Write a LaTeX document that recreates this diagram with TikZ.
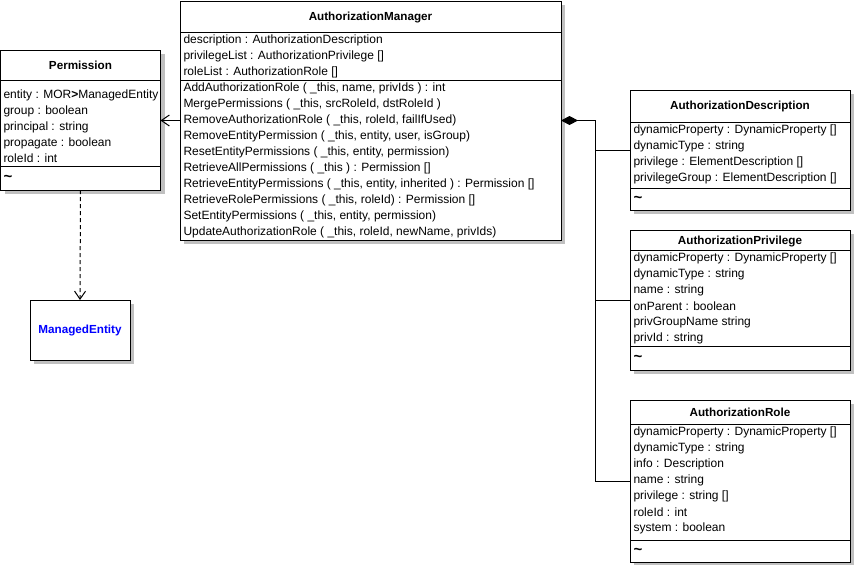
\documentclass[tikz,border=0pt]{standalone}
\usepackage{fontspec}
\setmainfont{Liberation Sans}
\usetikzlibrary{shadows,arrows.meta}
\definecolor{umlblue}{RGB}{0,0,255}
\definecolor{shadowgray}{RGB}{192,192,192}
\begin{document}
\begin{tikzpicture}[x=1pt,y=-1pt,line width=1pt,
  box/.style={draw=black,fill=white,anchor=north west,inner sep=0pt,outer sep=0pt,
    drop shadow={shadow xshift=4pt,shadow yshift=-4pt,fill=shadowgray,opacity=1}},
  txt/.style={anchor=west,inner sep=0pt,font=\fontsize{12}{13}\selectfont},
  ttl/.style={inner sep=0pt,font=\fontsize{11.7}{13}\selectfont\bfseries},
  sep/.style={line width=1pt},
  tld/.style={anchor=west,inner sep=0pt,font=\fontsize{15}{15}\selectfont\bfseries},
  assoc/.style={-{Straight Barb[length=8pt,width=11pt,line width=1pt]}},
  depend/.style={dashed,dash pattern=on 4pt off 3pt,-{Straight Barb[length=8pt,width=11pt,line width=1pt]}},
  compos/.style={{Diamond[length=17pt,width=9pt]}-}]
\useasboundingbox (0,0) rectangle (855,565);

% ---------- AuthorizationManager ----------
\node[box,minimum width=381pt,minimum height=239pt] (mgr) at (180,1) {};
\node[ttl] (mgrT) at (370.5,17) {AuthorizationManager};
\draw[sep] (180,32) -- (561,32);
\draw[sep] (180,80) -- (561,80);
\node[txt] (m1) at (183,40.5) {description : AuthorizationDescription};
\node[txt] (m2) at (183,56.5) {privilegeList : AuthorizationPrivilege []};
\node[txt] (m3) at (183,72.5) {roleList : AuthorizationRole []};
\node[txt] (o1) at (183,88.5) {AddAuthorizationRole ( \_this, name, privIds ) : int};
\node[txt] (o2) at (183,104.5) {MergePermissions ( \_this, srcRoleId, dstRoleId )};
\node[txt] (o3) at (183,120.5) {RemoveAuthorizationRole ( \_this, roleId, failIfUsed)};
\node[txt] (o4) at (183,136.5) {RemoveEntityPermission ( \_this, entity, user, isGroup)};
\node[txt] (o5) at (183,152.5) {ResetEntityPermissions ( \_this, entity, permission)};
\node[txt] (o6) at (183,168.5) {RetrieveAllPermissions ( \_this ) : Permission []};
\node[txt] (o7) at (183,184.5) {RetrieveEntityPermissions ( \_this, entity, inherited ) : Permission []};
\node[txt] (o8) at (183,200.5) {RetrieveRolePermissions ( \_this, roleId) : Permission []};
\node[txt] (o9) at (183,216.5) {SetEntityPermissions ( \_this, entity, permission)};
\node[txt] (o10) at (183,232.5) {UpdateAuthorizationRole ( \_this, roleId, newName, privIds)};

% ---------- Permission ----------
\node[box,minimum width=160pt,minimum height=140pt] (perm) at (0.5,50) {};
\node[ttl] (permT) at (80.5,65) {Permission};
\draw[sep] (0.5,80) -- (160.5,80);
\draw[sep] (0.5,166) -- (160.5,166);
\node[txt] (p1) at (3,95.5) {entity : MOR\textbf{>}ManagedEntity};
\node[txt] (p2) at (3,111.5) {group : boolean};
\node[txt] (p3) at (3,127.5) {principal : string};
\node[txt] (p4) at (3,143.5) {propagate : boolean};
\node[txt] (p5) at (3,158.5) {roleId : int};
\node[tld] (pt) at (3,178) {\textasciitilde};

% ---------- ManagedEntity ----------
\node[box,minimum width=100pt,minimum height=60pt] (me) at (30,300) {};
\node[ttl,text=umlblue] (meT) at (80,330) {ManagedEntity};

% ---------- AuthorizationDescription ----------
\node[box,minimum width=220pt,minimum height=120pt] (desc) at (630,90) {};
\node[ttl] (descT) at (740,106.5) {AuthorizationDescription};
\draw[sep] (630,122) -- (850,122);
\draw[sep] (630,188) -- (850,188);
\node[txt] (d1) at (633,130.5) {dynamicProperty : DynamicProperty []};
\node[txt] (d2) at (633,146.5) {dynamicType : string};
\node[txt] (d3) at (633,162.5) {privilege : ElementDescription []};
\node[txt] (d4) at (633,178.5) {privilegeGroup : ElementDescription []};
\node[tld] (dt) at (633,199) {\textasciitilde};

% ---------- AuthorizationPrivilege ----------
\node[box,minimum width=220pt,minimum height=140pt] (priv) at (630,230) {};
\node[ttl] (privT) at (740,241.5) {AuthorizationPrivilege};
\draw[sep] (630,250) -- (850,250);
\draw[sep] (630,346) -- (850,346);
\node[txt] (v1) at (633,258.5) {dynamicProperty : DynamicProperty []};
\node[txt] (v2) at (633,274.5) {dynamicType : string};
\node[txt] (v3) at (633,290.5) {name : string};
\node[txt] (v4) at (633,306.5) {onParent : boolean};
\node[txt] (v5) at (633,322.5) {privGroupName string};
\node[txt] (v6) at (633,338.5) {privId : string};
\node[tld] (vt) at (633,358) {\textasciitilde};

% ---------- AuthorizationRole ----------
\node[box,minimum width=220pt,minimum height=162pt] (role) at (630,400) {};
\node[ttl] (roleT) at (740,412.5) {AuthorizationRole};
\draw[sep] (630,424) -- (850,424);
\draw[sep] (630,540) -- (850,540);
\node[txt] (r1) at (633,432.5) {dynamicProperty : DynamicProperty []};
\node[txt] (r2) at (633,448.5) {dynamicType : string};
\node[txt] (r3) at (633,464.5) {info : Description};
\node[txt] (r4) at (633,480.5) {name : string};
\node[txt] (r5) at (633,496.5) {privilege : string []};
\node[txt] (r6) at (633,512.5) {roleId : int};
\node[txt] (r7) at (633,528.5) {system : boolean};
\node[tld] (rt) at (633,551) {\textasciitilde};

% ---------- connectors ----------
\draw[assoc] (mgr.west) -- (perm.east |- mgr.west);
\draw[depend] (perm.south) -- (me.north);
\coordinate (bus) at (595.5,120.5);
\draw[compos] (mgr.east) -- (bus);
\draw (bus) |- (desc.west);
\draw (bus) |- (priv.west);
\draw (bus) |- (role.west);
\end{tikzpicture}
\end{document}
